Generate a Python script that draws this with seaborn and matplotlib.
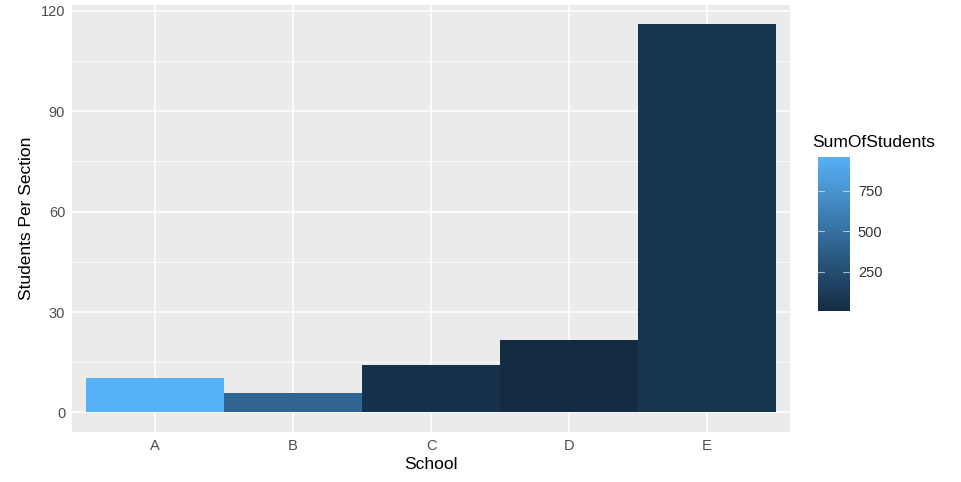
import numpy as np
import pandas as pd
import matplotlib
matplotlib.use('Agg')
import matplotlib.pyplot as plt
import seaborn as sns
from matplotlib.colors import LinearSegmentedColormap, Normalize
from matplotlib.cm import ScalarMappable

# data
schools = ['A', 'B', 'C', 'D', 'E']
students_per_section = [10.2, 5.7, 14.1, 21.7, 116]
sum_of_students = [962, 420, 50, 8, 80]

df = pd.DataFrame({'School': schools,
                   'StudentsPerSection': students_per_section,
                   'SumOfStudents': sum_of_students})

sns.set_theme(style='darkgrid', rc={'axes.facecolor': '#EBEBEB',
                                    'grid.color': 'white'})
plt.rcParams['font.family'] = ['Liberation Sans', 'DejaVu Sans']

# ggplot default continuous gradient
cmap = LinearSegmentedColormap.from_list('gg', ['#132B43', '#56B1F7'])
norm = Normalize(vmin=min(sum_of_students), vmax=max(sum_of_students))
colors = [cmap(norm(v)) for v in sum_of_students]

fig = plt.figure(figsize=(9.61, 4.82), dpi=100)
ax = fig.add_axes([0.075, 0.104, 0.747, 0.886])
sns.barplot(data=df, x='School', y='StudentsPerSection', hue='School',
            palette=colors, width=1.0, saturation=1, legend=False,
            linewidth=0, edgecolor='none', ax=ax)

ax.set_xlim(-0.6, 4.6)
ax.set_ylim(-5.8, 121.8)
ax.set_yticks([0, 30, 60, 90, 120])
ax.set_yticks([15, 45, 75, 105], minor=True)
ax.grid(which='major', color='white', linewidth=1.1)
ax.grid(which='minor', axis='y', color='white', linewidth=0.5)
ax.set_axisbelow(True)
for s in ax.spines.values():
    s.set_visible(False)
ax.tick_params(axis='both', which='major', length=3, color='#333333',
               labelsize=10.5, labelcolor='#4D4D4D', pad=2)
ax.tick_params(axis='y', which='minor', length=0)
ax.set_xlabel('School', fontsize=12.5, color='black', labelpad=3)
ax.set_ylabel('Students Per Section', fontsize=12.5, color='black', labelpad=5)

# colour bar legend
cax = fig.add_axes([0.851, 0.355, 0.033, 0.320])
sm = ScalarMappable(norm=norm, cmap=cmap)
cb = fig.colorbar(sm, cax=cax)
cb.outline.set_visible(False)
cb.set_ticks([250, 500, 750])
cax.tick_params(length=0, labelsize=10.5, labelcolor='#333333', pad=6)
for t in [250, 500, 750]:
    cax.plot([0, 0.2], [t, t], transform=cax.get_yaxis_transform(),
             color='white', alpha=0.6, linewidth=0.8)
    cax.plot([0.8, 1.0], [t, t], transform=cax.get_yaxis_transform(),
             color='white', alpha=0.6, linewidth=0.8)
fig.text(0.845, 0.705, 'SumOfStudents', fontsize=12.5, color='black', ha='left', va='center')

fig.savefig('out.png', dpi=100)
